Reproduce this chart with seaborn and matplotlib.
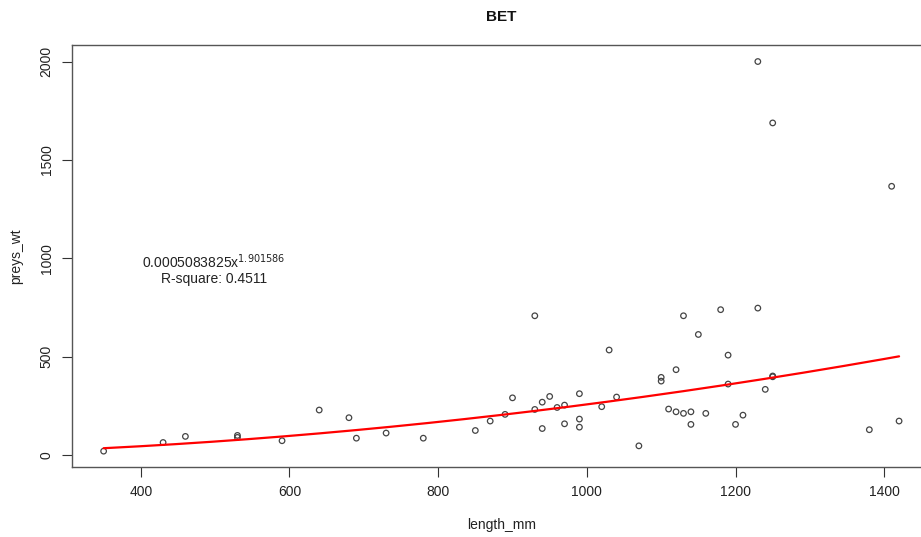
import numpy as np
import pandas as pd
import matplotlib
matplotlib.use("Agg")
import matplotlib.pyplot as plt
import seaborn as sns

length_mm = [350, 430, 460, 530, 530, 590, 640, 680, 690, 730, 780, 850, 870, 890, 900,
             930, 930, 940, 940, 950, 960, 970, 970, 990, 990, 990, 1020, 1030, 1040, 1070,
             1100, 1100, 1110, 1120, 1120, 1130, 1130, 1140, 1140, 1150, 1160, 1180, 1190,
             1190, 1200, 1210, 1230, 1230, 1240, 1250, 1250, 1250, 1380, 1410, 1420]
preys_wt = [20, 64, 95, 90, 100, 73, 229, 190, 86, 112, 86, 125, 173, 207, 291,
            708, 232, 269, 135, 298, 242, 254, 159, 312, 183, 142, 246, 534, 295, 47,
            395, 376, 234, 434, 220, 708, 212, 220, 156, 613, 212, 739, 508,
            361, 156, 203, 747, 2000, 334, 398, 402, 1688, 129, 1366, 173]

coef_a = 0.0005083825
coef_b = 1.901586
r_square = 0.4511

sns.set_theme(style="white")
plt.rcParams['font.family'] = ['Liberation Sans', 'DejaVu Sans']

df = pd.DataFrame({"length_mm": length_mm, "preys_wt": preys_wt})
xs = np.linspace(min(length_mm), max(length_mm), 200)
fit = pd.DataFrame({"x": xs, "y": coef_a * xs ** coef_b})

fig = plt.figure(figsize=(9.21, 5.37), dpi=100)
ax = fig.add_axes([0.0778, 0.1309, 0.9331, 0.7853])

sns.scatterplot(data=df, x="length_mm", y="preys_wt", ax=ax, marker="o",
                facecolors="none", edgecolor="#444444", linewidth=0.9, s=16)
sns.lineplot(data=fit, x="x", y="y", ax=ax, color="#ff0000", linewidth=1.6)

ax.set_xlim(307, 1463)
ax.set_ylim(-59, 2084)
ax.set_xticks([400, 600, 800, 1000, 1200, 1400])
ax.set_yticks([0, 500, 1000, 1500, 2000])
ax.tick_params(axis="both", which="major", direction="out", length=7, width=0.8,
               color="#333333", labelsize=10, labelcolor="#222222", pad=6,
               bottom=True, left=True)
for lab in ax.get_yticklabels():
    lab.set_rotation(90)
    lab.set_va("center")
for sp in ax.spines.values():
    sp.set_color("#555555")
    sp.set_linewidth(1.0)
    sp.set_visible(True)

ax.set_xlabel("length_mm", fontsize=10, color="#222222", labelpad=14)
ax.set_ylabel("preys_wt", fontsize=10, color="#222222", labelpad=12)
ax.set_title("BET", fontsize=11, fontweight="bold", color="#111111", pad=17,
             x=0.5)

ax.text(498, 981, f"{coef_a:.10f}".rstrip("0") + "x$^{" + f"{coef_b}" + "}$",
        ha="center", va="center", fontsize=10, color="#222222")
ax.text(498, 893, f"R-square: {r_square}", ha="center", va="center",
        fontsize=10, color="#222222")

fig.savefig("out.png", dpi=100)
